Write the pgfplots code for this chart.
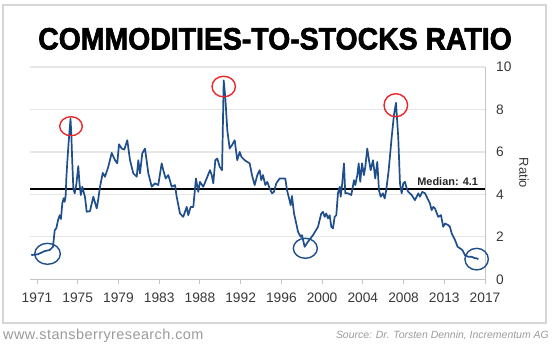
\documentclass[border=0pt]{standalone}
\usepackage{fontspec}
\setmainfont{Liberation Sans}
\newfontfamily\titlefont{Liberation Sans}[BoldFeatures={FakeBold=2,FakeStretch=0.92}]
\newfontfamily\footfont{Liberation Sans}[LetterSpace=3]
\usepackage{pgfplots}
\pgfplotsset{compat=1.18}
\definecolor{lineblue}{HTML}{1F4E8C}
\definecolor{circred}{HTML}{E8262B}
\definecolor{tickgray}{HTML}{3A3A3A}
\definecolor{axisgray}{HTML}{C4C4C4}
\definecolor{gridgray}{HTML}{E6E6E6}
\definecolor{framegray}{HTML}{D6D6D6}
\definecolor{footgray}{HTML}{9A9A9A}
\begin{document}
\begin{tikzpicture}
\useasboundingbox (0,0) rectangle (552bp,349bp);
\draw[framegray, line width=1.3bp] (3bp,26bp) rectangle (546bp,344bp);
\node[anchor=base, inner sep=0pt] at (275bp,299.5bp) {\titlefont\bfseries\fontsize{31}{33}\selectfont COMMODITIES-TO-STOCKS RATIO};
\begin{axis}[
  at={(30bp,69.7bp)}, anchor=south west,
  scale only axis, width=455bp, height=212.3bp,
  xmin=1970.28, xmax=2017, ymin=0, ymax=10,
  axis x line*=bottom, axis y line*=right,
  axis line style={draw=axisgray, line width=1bp},
  xtick={1971,1975.1818,1979.3636,1983.5455,1987.7273,1991.9091,1996.0909,2000.2727,2004.4545,2008.6364,2012.8182,2017},
  xticklabels={1971,1975,1979,1983,1988,1992,1996,2000,2004,2008,2013,2017},
  ytick={0,2,4,6,8,10},
  ymajorgrids, grid style={gridgray, line width=1.3bp},
  xtick style={draw=axisgray, line width=1bp},
  ytick style={draw=none},
  tick align=outside, major tick length=5bp,
  /pgf/number format/assume math mode=true,
  tick label style={font=\fontsize{13.8}{15}\selectfont, text=tickgray},
  xticklabel style={anchor=north, inner sep=0pt, yshift=-8bp},
  yticklabel style={anchor=west, inner sep=0pt, xshift=6bp},
  clip=false,
]
\addplot[black, line width=1.2bp] coordinates {(1970.28,4.25) (2017,4.25)};
\addplot[lineblue, line width=1.7bp, line join=round] coordinates {
(1970.41,1.14) (1971.10,1.18) (1971.79,1.33) (1972.30,1.38) (1972.64,1.53) (1972.82,2.32) (1972.98,2.40)
(1973.16,2.79) (1973.33,3.02) (1973.46,2.84) (1973.60,3.59) (1973.74,3.82) (1973.84,3.65) (1973.95,3.97)
(1974.01,4.75) (1974.11,5.53) (1974.25,6.47) (1974.44,7.56) (1974.52,6.87) (1974.62,5.53) (1974.73,4.28)
(1974.87,4.05) (1975.03,4.44) (1975.24,5.33) (1975.36,4.52) (1975.50,3.97) (1975.65,4.36) (1975.79,4.11)
(1975.93,3.87) (1976.10,3.18) (1976.44,3.21) (1976.78,3.89) (1977.13,3.34) (1977.26,3.68) (1977.47,4.36)
(1977.75,5.01) (1977.98,4.83) (1978.32,5.30) (1978.67,5.95) (1979.01,5.61) (1979.24,5.46) (1979.42,6.36)
(1979.70,6.16) (1979.96,6.11) (1980.27,6.55) (1980.55,5.61) (1980.89,4.99) (1981.24,4.83) (1981.40,5.61)
(1981.57,4.99) (1981.81,5.93) (1982.09,6.16) (1982.43,4.99) (1982.78,4.36) (1983.12,4.52) (1983.45,4.44)
(1983.80,5.46) (1983.97,5.14) (1984.21,4.75) (1984.48,4.91) (1984.83,4.36) (1985.17,4.44) (1985.34,3.89)
(1985.68,3.10) (1986.02,2.94) (1986.37,3.41) (1986.53,3.02) (1986.78,3.41) (1987.05,3.41) (1987.32,4.75)
(1987.56,4.12) (1987.73,4.59) (1988.07,4.36) (1988.42,4.75) (1988.76,5.14) (1988.94,4.91) (1989.10,4.52)
(1989.31,5.61) (1989.51,5.69) (1989.76,5.30) (1990.00,5.14) (1990.17,9.37) (1990.33,8.59) (1990.54,7.02)
(1990.78,6.16) (1991.02,6.32) (1991.30,6.55) (1991.56,5.61) (1991.81,6.00) (1991.98,5.77) (1992.32,5.61)
(1992.59,5.53) (1992.84,5.46) (1993.07,4.91) (1993.35,4.44) (1993.62,4.91) (1993.86,5.14) (1994.03,4.67)
(1994.20,4.91) (1994.44,4.44) (1994.64,4.59) (1994.89,4.28) (1995.13,4.05) (1995.33,4.12) (1995.57,4.52)
(1995.92,4.75) (1996.49,4.75) (1996.67,4.20) (1996.84,3.89) (1997.05,3.49) (1997.18,3.92) (1997.39,3.10)
(1997.62,2.63) (1997.80,2.24) (1998.07,2.00) (1998.21,2.08) (1998.48,1.53) (1998.82,1.77) (1999.34,2.08)
(1999.85,2.47) (2000.19,3.10) (2000.36,3.18) (2000.54,2.94) (2000.70,3.10) (2000.88,2.87) (2001.05,3.02)
(2001.22,2.47) (2001.39,2.40) (2001.56,2.94) (2001.73,3.02) (2001.90,4.05) (2002.08,4.36) (2002.18,3.89)
(2002.34,4.52) (2002.52,5.46) (2002.65,4.05) (2002.93,4.05) (2003.27,3.97) (2003.55,4.67) (2003.68,4.44)
(2003.89,4.91) (2004.03,5.46) (2004.19,4.59) (2004.37,5.46) (2004.57,4.91) (2004.71,5.30) (2004.91,6.16)
(2005.09,5.61) (2005.26,5.14) (2005.50,5.61) (2005.73,4.75) (2005.94,5.53) (2006.11,4.20) (2006.29,3.89)
(2006.52,4.05) (2006.70,3.81) (2006.86,4.20) (2007.11,5.14) (2007.42,6.71) (2007.65,7.73) (2007.86,8.31)
(2008.09,6.71) (2008.27,4.52) (2008.44,4.05) (2008.61,4.52) (2008.78,4.59) (2008.96,4.28) (2009.12,4.12)
(2009.47,3.97) (2009.81,3.73) (2009.98,3.89) (2010.15,4.05) (2010.32,3.89) (2010.56,4.12) (2010.84,4.05)
(2011.01,3.89) (2011.35,3.57) (2011.52,3.26) (2011.69,3.41) (2011.86,3.34) (2012.20,2.94) (2012.48,3.02)
(2012.71,2.47) (2012.89,2.63) (2013.23,2.55) (2013.40,2.47) (2013.58,2.16) (2013.92,1.85) (2014.19,1.53)
(2014.43,1.46) (2014.67,1.38) (2014.94,1.14) (2015.29,1.06) (2015.63,1.06) (2015.97,0.99) (2016.15,0.99)
(2016.31,0.94)
};
\node[anchor=south east, inner sep=0pt, font=\bfseries\fontsize{11}{13}\selectfont, text=black!85] at (axis cs:2016.3,4.25) [yshift=3.5bp] {Median: 4.1};
\coordinate (r1) at (axis cs:1974.49,7.21);
\coordinate (r2) at (axis cs:1990.17,9.08);
\coordinate (r3) at (axis cs:2007.84,8.20);
\coordinate (b1) at (axis cs:1972.08,1.20);
\coordinate (b2) at (axis cs:1998.55,1.46);
\coordinate (b3) at (axis cs:2016.14,0.95);
\end{axis}
\draw[circred, line width=1.4bp] (r1) ellipse [x radius=11.3bp, y radius=9.5bp];
\draw[circred, line width=1.4bp] (r2) ellipse [x radius=11.7bp, y radius=10.3bp];
\draw[circred, line width=1.4bp] (r3) ellipse [x radius=11.8bp, y radius=11.5bp];
\draw[lineblue, line width=1.4bp] (b1) ellipse [x radius=12.8bp, y radius=10.5bp];
\draw[lineblue, line width=1.4bp] (b2) ellipse [x radius=12bp, y radius=10bp];
\draw[lineblue, line width=1.4bp] (b3) ellipse [x radius=11.7bp, y radius=10.8bp];
\node[rotate=-90, inner sep=0pt, text=tickgray, font=\fontsize{13}{15}\selectfont] at (524bp,176bp) {Ratio};
\node[anchor=base west, inner sep=0pt, text=footgray] at (3bp,10bp) {\footfont\fontsize{14.5}{16}\selectfont www.stansberryresearch.com};
\node[anchor=base east, inner sep=0pt, text=footgray, font=\itshape\fontsize{10.5}{12}\selectfont] at (549bp,11bp) {Source: Dr. Torsten Dennin, Incrementum AG};
\end{tikzpicture}
\end{document}
